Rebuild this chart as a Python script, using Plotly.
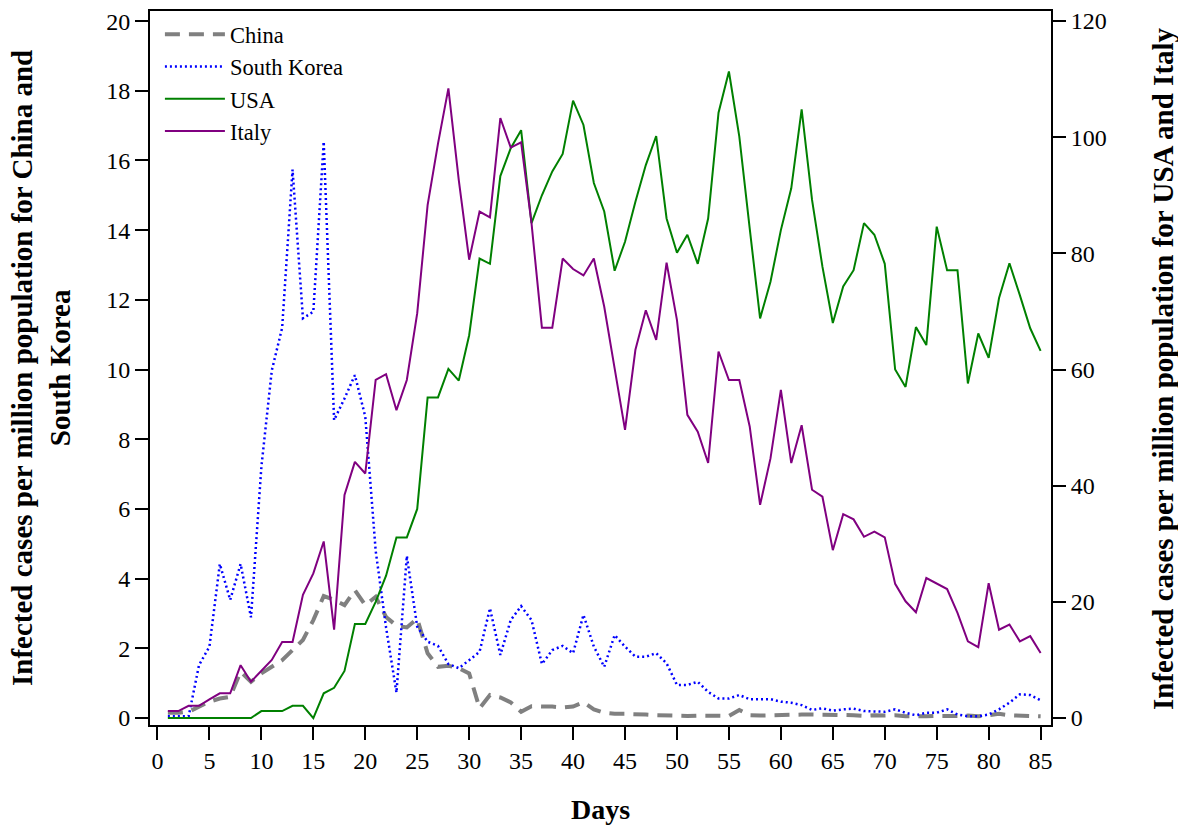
import plotly.graph_objects as go

days = list(range(1, 86))

china = [0.15, 0.15, 0.18, 0.32, 0.47, 0.56, 0.61, 1.33, 1.04, 1.28,
         1.47, 1.66, 1.95, 2.24, 2.81, 3.50, 3.39, 3.24, 3.67, 3.24,
         3.48, 2.90, 2.65, 2.60, 2.85, 1.86, 1.47, 1.50, 1.43, 1.28,
         0.28, 0.66, 0.59, 0.45, 0.18, 0.34, 0.33, 0.33, 0.30, 0.33,
         0.45, 0.25, 0.15, 0.12, 0.12, 0.12, 0.10, 0.08, 0.07, 0.07,
         0.06, 0.07, 0.06, 0.05, 0.06, 0.23, 0.08, 0.07, 0.08, 0.10,
         0.09, 0.10, 0.10, 0.10, 0.10, 0.08, 0.08, 0.06, 0.08, 0.07,
         0.08, 0.05, 0.04, 0.05, 0.06, 0.05, 0.06, 0.07, 0.05, 0.08,
         0.12, 0.08, 0.07, 0.05, 0.05]

south_korea = [0.05, 0.05, 0.05, 1.52, 2.05, 4.42, 3.39, 4.42, 2.89, 7.21,
               9.97, 11.2, 15.74, 11.47, 11.66, 16.54, 8.55, 9.17, 9.84, 8.65,
               4.80, 2.60, 0.73, 4.65, 2.62, 2.19, 2.07, 1.55, 1.43, 1.66,
               1.90, 3.15, 1.81, 2.81, 3.21, 2.81, 1.55, 1.95, 2.07, 1.86,
               2.96, 2.05, 1.47, 2.38, 2.05, 1.76, 1.76, 1.86, 1.57, 0.95,
               0.95, 1.04, 0.75, 0.56, 0.56, 0.66, 0.54, 0.54, 0.54, 0.47,
               0.44, 0.37, 0.23, 0.28, 0.21, 0.25, 0.27, 0.20, 0.20, 0.18,
               0.25, 0.15, 0.08, 0.15, 0.15, 0.25, 0.10, 0.05, 0.05, 0.10,
               0.25, 0.44, 0.68, 0.66, 0.51]

usa = [0, 0, 0, 0, 0, 0, 0, 0, 0, 1.2,
       1.2, 1.2, 2.1, 2.1, 0, 4.25, 5.2, 8.1, 16.2, 16.2,
       20.0, 24.5, 31.1, 31.1, 36.0, 55.2, 55.2, 60.1, 58.1, 65.9,
       79.1, 78.2, 93.3, 98.1, 101.2, 85.2, 90.0, 94.1, 97.1, 106.3,
       102.1, 92.1, 87.2, 77.0, 82.0, 88.9, 95.2, 100.2, 86.0, 80.1,
       83.2, 78.2, 86.0, 104.2, 111.3, 100.1, 84.3, 68.8, 75.1, 84.0,
       91.2, 104.8, 89.2, 77.7, 68.0, 74.3, 77.1, 85.2, 83.2, 78.2,
       60.0, 57.0, 67.3, 64.2, 84.6, 77.1, 77.1, 57.6, 66.2, 62.0,
       72.3, 78.3, 72.8, 67.1, 63.2]

italy = [1.2, 1.2, 2.1, 2.1, 3.2, 4.25, 4.25, 9.1, 6.25, 8.1,
         10.0, 13.1, 13.1, 21.2, 24.9, 30.4, 15.2, 38.4, 44.1, 42.1,
         58.2, 59.2, 53.0, 58.2, 69.7, 88.3, 98.9, 108.4, 92.6, 78.9,
         87.2, 86.2, 103.3, 98.2, 99.1, 85.2, 67.2, 67.2, 79.1, 77.3,
         76.2, 79.1, 70.8, 60.2, 49.6, 63.4, 70.2, 65.1, 78.4, 68.5,
         52.2, 49.3, 43.9, 63.1, 58.2, 58.2, 50.2, 36.7, 44.7, 56.5,
         43.9, 50.4, 39.3, 38.1, 28.9, 35.1, 34.2, 31.2, 32.1, 31.1,
         23.1, 20.1, 18.2, 24.1, 23.1, 22.2, 18.1, 13.2, 12.2, 23.2,
         15.2, 16.1, 13.2, 14.1, 11.2]

x_ticks = list(range(0, 90, 5))
left_ticks = list(range(0, 22, 2))
right_ticks = list(range(0, 140, 20))

FONT = "Liberation Serif, Times New Roman, serif"

fig = go.Figure()
fig.add_trace(go.Scatter(x=days, y=china, name="China", mode="lines",
                         line=dict(color="#808080", width=4, dash="15px,9px"), yaxis="y"))
fig.add_trace(go.Scatter(x=days, y=south_korea, name="South Korea", mode="lines",
                         line=dict(color="#0000ff", width=2.5, dash="2px,3px"), yaxis="y"))
fig.add_trace(go.Scatter(x=days, y=usa, name="USA", mode="lines",
                         line=dict(color="#008000", width=2), yaxis="y2"))
fig.add_trace(go.Scatter(x=days, y=italy, name="Italy", mode="lines",
                         line=dict(color="#800080", width=2), yaxis="y2"))

axis_common = dict(ticks="outside", ticklen=13, tickwidth=1.5, tickcolor="black",
                   showline=True, linecolor="black", linewidth=2, showgrid=False,
                   zeroline=False, automargin=False,
                   tickfont=dict(family=FONT, size=24, color="black"))

fig.update_layout(
    width=1178, height=827, autosize=False,
    margin=dict(l=150, r=127, t=11, b=102, pad=0, autoexpand=False),
    paper_bgcolor="white", plot_bgcolor="white",
    font=dict(family=FONT, size=24, color="black"),
    xaxis=dict(range=[-0.72, 86.0], tickvals=x_ticks, mirror=True, **axis_common),
    yaxis=dict(range=[-0.2, 20.29], tickvals=left_ticks, mirror=False, **axis_common),
    yaxis2=dict(range=[-1.2, 121.72], tickvals=right_ticks, overlaying="y", side="right",
                **axis_common),
    showlegend=True,
    legend=dict(x=0.011, y=0.997, xanchor="left", yanchor="top", bgcolor="rgba(0,0,0,0)",
                borderwidth=0, font=dict(family=FONT, size=22.5, color="black"),
                itemwidth=60, tracegroupgap=0),
    annotations=[
        dict(text="<b>Infected cases per million population for China and<br>South Korea</b>",
             xref="paper", yref="paper", x=-0.121, y=0.5, xanchor="center", yanchor="middle",
             textangle=-90, showarrow=False, align="center",
             font=dict(family=FONT, size=29, color="black")),
        dict(text="<b>Infected cases per million population for USA and Italy</b>",
             xref="paper", yref="paper", x=1.1243, y=0.5, xanchor="center", yanchor="middle",
             textangle=-90, showarrow=False,
             font=dict(family=FONT, size=29, color="black")),
        dict(text="<b>Days</b>", xref="paper", yref="paper", x=0.5, y=-0.119,
             xanchor="center", yanchor="middle", showarrow=False,
             font=dict(family=FONT, size=28, color="black")),
    ],
)

fig.write_html("out.html", include_plotlyjs=True)
